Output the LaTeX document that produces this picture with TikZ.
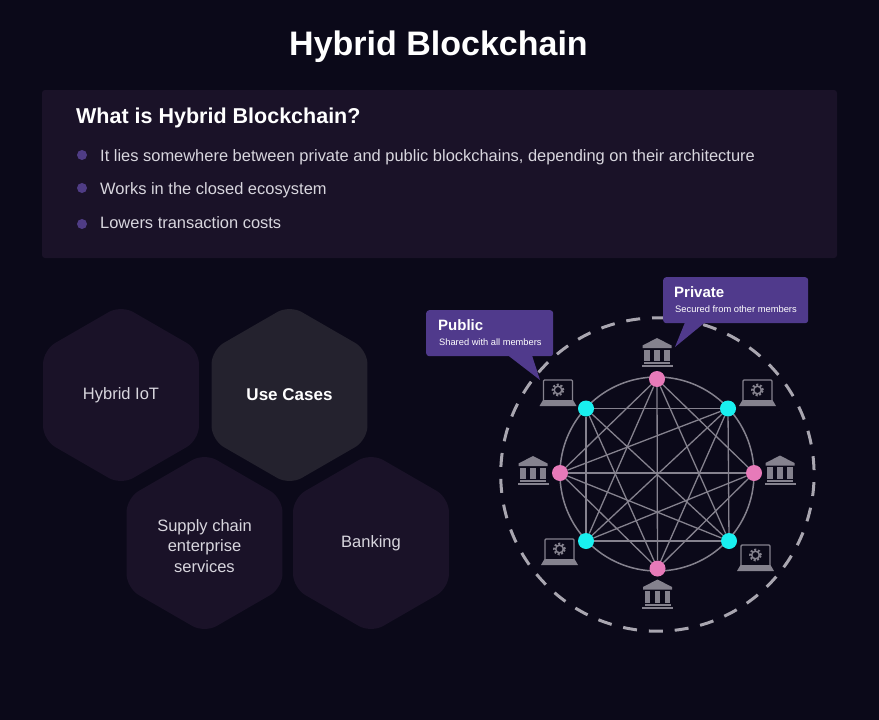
\documentclass[tikz,border=0pt]{standalone}
\usepackage{fontspec}
\setmainfont{Liberation Sans}
\usepackage{xcolor}
\usetikzlibrary{calc,positioning,backgrounds,shapes.geometric}
\definecolor{bgdark}{HTML}{0B0919}
\definecolor{panel}{HTML}{1A1228}
\definecolor{hexlit}{HTML}{24222E}
\definecolor{callfill}{HTML}{503A8C}
\definecolor{dot}{HTML}{4F3C85}
\definecolor{soft}{HTML}{D8D6DE}
\definecolor{mesh}{HTML}{85828E}
\definecolor{ringgray}{HTML}{A9A6B0}
\definecolor{pinkdot}{HTML}{E77AB9}
\definecolor{cyandot}{HTML}{19F0F0}
\newcommand{\fsize}[1]{\fontsize{#1}{#1}\selectfont}
\tikzset{
  hexcell/.style={regular polygon,regular polygon sides=6,shape border rotate=30,minimum size=180pt,
    inner sep=0pt,rounded corners=14pt,fill=panel,text=soft,align=center,font=\fsize{16.5}},
  bullet/.style={circle,fill=dot,minimum size=10pt,inner sep=0pt},
  item/.style={anchor=west,inner sep=0pt,text=soft,font=\fsize{16.45}},
  callout/.style={fill=callfill,rounded corners=3pt,anchor=north west,align=left,text=white,
    minimum height=46pt,inner sep=0pt,text depth=0pt},
  pinknode/.style={circle,fill=pinkdot,minimum size=16pt,inner sep=0pt},
  cyannode/.style={circle,fill=cyandot,minimum size=16pt,inner sep=0pt},
  meshline/.style={draw=mesh,line width=1.3pt},
  bank/.pic={
    \fill[mesh] (0,-14.5) -- (14.5,-7) -- (14.5,-4.5) -- (-14.5,-4.5) -- (-14.5,-7) -- cycle;
    \foreach \px in {-10,0,10} \fill[mesh] (\px-2.6,-3) rectangle (\px+2.6,8.5);
    \fill[mesh] (-13,9.5) rectangle (13,11.5);
    \fill[mesh] (-15.5,12.5) rectangle (15.5,14.5);
  },
  laptop/.pic={
    \draw[mesh,line width=1.4pt,rounded corners=1pt] (-14.5,7) |- (14.5,-13) -- (14.5,7);
    \fill[mesh] (-15,7) -- (15,7) -- (18.5,13) -- (-18.5,13) -- cycle;
    \draw[mesh,line width=1.5pt] (0,-3) circle (3.8pt);
    \draw[mesh,line width=2pt,dash pattern=on 2pt off 1.8pt] (0,-3) circle (5.4pt);
  }
}

\begin{document}
\begin{tikzpicture}[x=1pt,y=-1pt]
 \useasboundingbox (0,0) rectangle (879,720);
 \fill[panel,rounded corners=3pt] (42,90) rectangle (837,258);

 % text block
 \node[text=white,font=\fsize{34}\bfseries] (title) at (438.5,47) {Hybrid Blockchain};
 \node[anchor=west,inner sep=0pt,text=white,font=\fsize{21.5}\bfseries] (question) at (76,118) {What is Hybrid Blockchain?};
 \node[bullet] (b1) at (82,155) {};
 \node[bullet] (b2) at (82,188) {};
 \node[bullet] (b3) at (82,224) {};
 \node[item] (t1) at (100,157) {It lies somewhere between private and public blockchains, depending on their architecture};
 \node[item] (t2) at (100,190) {Works in the closed ecosystem};
 \node[item] (t3) at (100,223) {Lowers transaction costs};

 % hexagons
 \node[hexcell] (iot) at (121,395) {Hybrid IoT};
 \node[hexcell,fill=hexlit,text=white,font=\fsize{17}\bfseries] (cases) at (289.5,395) {Use Cases};
 \node[hexcell] (supply) at (204.5,543) {\rule{0pt}{18pt}Supply chain\\[4pt]enterprise\\[4pt]services};
 \node[hexcell] (banking) at (371,543) {Banking};

 % network
 \node[circle,draw=ringgray,line width=3pt,dash pattern=on 14pt off 11.91pt,minimum size=313.4pt,
   inner sep=0pt,outer sep=0pt,rotate=181.6] (outer) at (657.4,474.5) {};
 \node[circle,draw=mesh,line width=1.5pt,minimum size=194pt,inner sep=0pt,outer sep=0pt] (inner) at (657,474) {};
 \node[pinknode] (n1) at (657,379) {};
 \node[cyannode] (n2) at (728,408.5) {};
 \node[pinknode] (n3) at (754,473) {};
 \node[cyannode] (n4) at (729,541) {};
 \node[pinknode] (n5) at (657.5,568.5) {};
 \node[cyannode] (n6) at (586,541) {};
 \node[pinknode] (n7) at (560,473) {};
 \node[cyannode] (n8) at (586,408.5) {};
 \begin{pgfonlayer}{background}
  \fill[bgdark] (0,0) rectangle (879,720);
  \foreach \i in {1,...,6}{
   \pgfmathtruncatemacro\j{\i+2}
   \foreach \k in {\j,...,8}{
    % one pair stays unlinked in the mesh
    \ifnum\i\k=18\else\ifnum\i\k=38\else\draw[meshline] (n\i) -- (n\k);\fi\fi
   }
  }
 \end{pgfonlayer}

 % icons
 \pic at (657,352.5) {bank};
 \pic at (533,470.5) {bank};
 \pic at (780,470) {bank};
 \pic at (657.5,594) {bank};
 \pic at (558,393) {laptop};
 \pic at (757.5,393) {laptop};
 \pic at (559.5,552) {laptop};
 \pic at (755.5,558) {laptop};

 % callouts
 \node[callout,minimum width=127pt] (public) at (426,310) {};
 \node[callout,minimum width=145pt] (private) at (663,277) {};
 \coordinate (pubtip) at (540,380);
 \coordinate (pritip) at (675,347);
 \fill[callfill] ($(public.south west)+(82,-1)$) -- (pubtip) -- ($(public.south west)+(106,-1)$) -- cycle;
 \fill[callfill] ($(private.south west)+(22,-1)$) -- (pritip) -- ($(private.south west)+(42,-1)$) -- cycle;
 \node[anchor=west,inner sep=0pt,text=white,font=\fsize{15}\bfseries] (pubhead) at (438,325) {Public};
 \node[anchor=west,inner sep=0pt,text=white,font=\fsize{9.3}] (pubsub) at (439,342.5) {Shared with all members};
 \node[anchor=west,inner sep=0pt,text=white,font=\fsize{15}\bfseries] (prihead) at (674,292) {Private};
 \node[anchor=west,inner sep=0pt,text=white,font=\fsize{9.35}] (prisub) at (675,309.5) {Secured from other members};
\end{tikzpicture}
\end{document}
